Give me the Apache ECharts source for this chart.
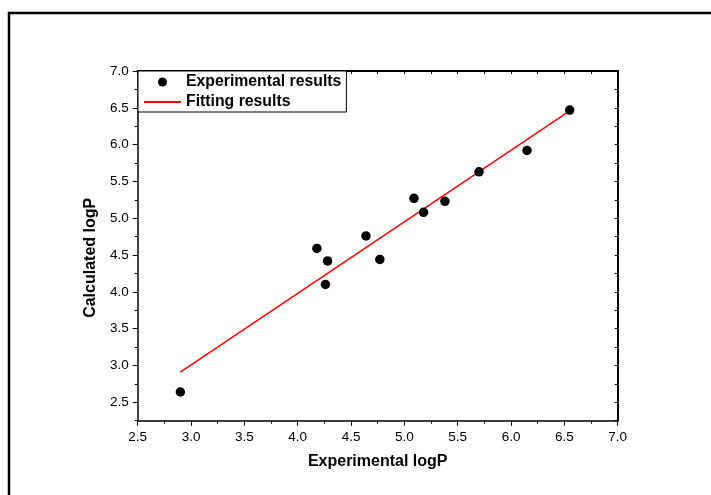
<!DOCTYPE html>
<html>
<head>
<meta charset="utf-8">
<script src="https://cdn.jsdelivr.net/npm/echarts@6/dist/echarts.min.js"></script>
<style>html,body{margin:0;padding:0;background:#fff;}#c{width:711px;height:495px;}</style>
</head>
<body>
<div id="c"></div>
<script>
var expX = [2.90, 4.18, 4.28, 4.26, 4.64, 4.77, 5.09, 5.18, 5.38, 5.70, 6.15, 6.55];
var expY = [2.64, 4.59, 4.42, 4.10, 4.76, 4.44, 5.27, 5.08, 5.23, 5.63, 5.92, 6.47];
var fitX = [2.90, 6.55];
var fitY = [2.91, 6.46];
var yTicks = [2.5, 3.0, 3.5, 4.0, 4.5, 5.0, 5.5, 6.0, 6.5, 7.0];
var seriesNames = ['Experimental results', 'Fitting results'];
var xTitle = 'Experimental logP';
var yTitle = 'Calculated logP';

var font = 'Arial, "Liberation Sans", sans-serif';
var chart = echarts.init(document.getElementById('c'), null, {renderer: 'canvas'});
var axisLine = {show: true, lineStyle: {color: '#000', width: 1.5}};
var tickFont = 13.5;
var titleFont = 16;
var option = {
  animation: false,
  backgroundColor: '#fff',
  grid: {left: 137.7, right: 93.3, top: 71, bottom: 74.3, containLabel: false},
  graphic: [{
    type: 'rect', silent: true,
    shape: {x: 9, y: 13, width: 1000, height: 1000},
    style: {fill: 'none', stroke: '#000', lineWidth: 2.5}
  }],
  legend: {
    orient: 'vertical', left: 138, top: 71,
    backgroundColor: '#fff', borderColor: '#000', borderWidth: 1, borderRadius: 0,
    padding: [2, 5, 1, 5], itemGap: 2, itemWidth: 37, itemHeight: 9,
    textStyle: {fontFamily: font, fontSize: 15.8, lineHeight: 18, fontWeight: 'bold', color: '#000'},
    data: [
      {name: seriesNames[0], itemStyle: {opacity: 1}},
      {name: seriesNames[1], itemStyle: {opacity: 0}}
    ]
  },
  xAxis: [{
    type: 'value', position: 'bottom', min: 2.5, max: 7, interval: 0.5,
    axisLine: axisLine,
    axisTick: {show: true, inside: false, length: 5, lineStyle: {color: '#000', width: 1}},
    minorTick: {show: true, splitNumber: 2, length: 3, lineStyle: {color: '#000', width: 1}},
    axisLabel: {margin: 10, fontFamily: font, fontSize: tickFont, color: '#000', formatter: function (v) { return v.toFixed(1); }},
    splitLine: {show: false}, minorSplitLine: {show: false},
    name: xTitle, nameLocation: 'middle', nameGap: 33,
    nameTextStyle: {fontFamily: font, fontSize: titleFont, fontWeight: 'bold', color: '#000'}
  }, {
    type: 'value', position: 'top', min: 2.5, max: 7, interval: 0.25,
    axisLine: {show: true, lineStyle: {color: '#000', width: 2}},
    axisTick: {show: true, inside: true, length: 3, lineStyle: {color: '#000', width: 1}},
    axisLabel: {show: false}, splitLine: {show: false}
  }],
  yAxis: [{
    type: 'value', position: 'left', min: 2.25, max: 7, interval: 0.25,
    axisLine: axisLine,
    axisTick: {show: true, inside: false, length: 5, customValues: yTicks, lineStyle: {color: '#000', width: 1}},
    axisLabel: {margin: 9, customValues: yTicks, fontFamily: font, fontSize: tickFont, color: '#000', formatter: function (v) { return v.toFixed(1); }},
    splitLine: {show: false},
    name: yTitle, nameLocation: 'middle', nameGap: 37, nameRotate: 90,
    nameTextStyle: {fontFamily: font, fontSize: titleFont, fontWeight: 'bold', color: '#000', padding: [0, 24, 0, 0]}
  }, {
    type: 'value', position: 'right', min: 2.25, max: 7, interval: 0.25,
    axisLine: {show: true, lineStyle: {color: '#000', width: 2}},
    axisTick: {show: true, inside: true, length: 3, lineStyle: {color: '#000', width: 1}},
    axisLabel: {show: false}, splitLine: {show: false}
  }, {
    type: 'value', position: 'left', min: 2.25, max: 7, interval: 0.25,
    axisLine: {show: false},
    axisTick: {show: true, inside: false, length: 3, lineStyle: {color: '#000', width: 1}},
    axisLabel: {show: false}, splitLine: {show: false}
  }],
  series: [{
    name: seriesNames[0], type: 'scatter', xAxisIndex: 0, yAxisIndex: 0,
    symbol: 'circle', symbolSize: 9.5,
    itemStyle: {color: '#000', opacity: 1},
    data: expX.map(function (x, i) { return [x, expY[i]]; }),
    z: 3
  }, {
    name: seriesNames[1], type: 'line', xAxisIndex: 0, yAxisIndex: 0,
    symbol: 'none', showSymbol: false,
    lineStyle: {color: '#ff0000', width: 1.5}, itemStyle: {color: '#ff0000'},
    data: fitX.map(function (x, i) { return [x, fitY[i]]; }),
    z: 2
  }]
};
chart.setOption(option);
</script>
</body>
</html>
